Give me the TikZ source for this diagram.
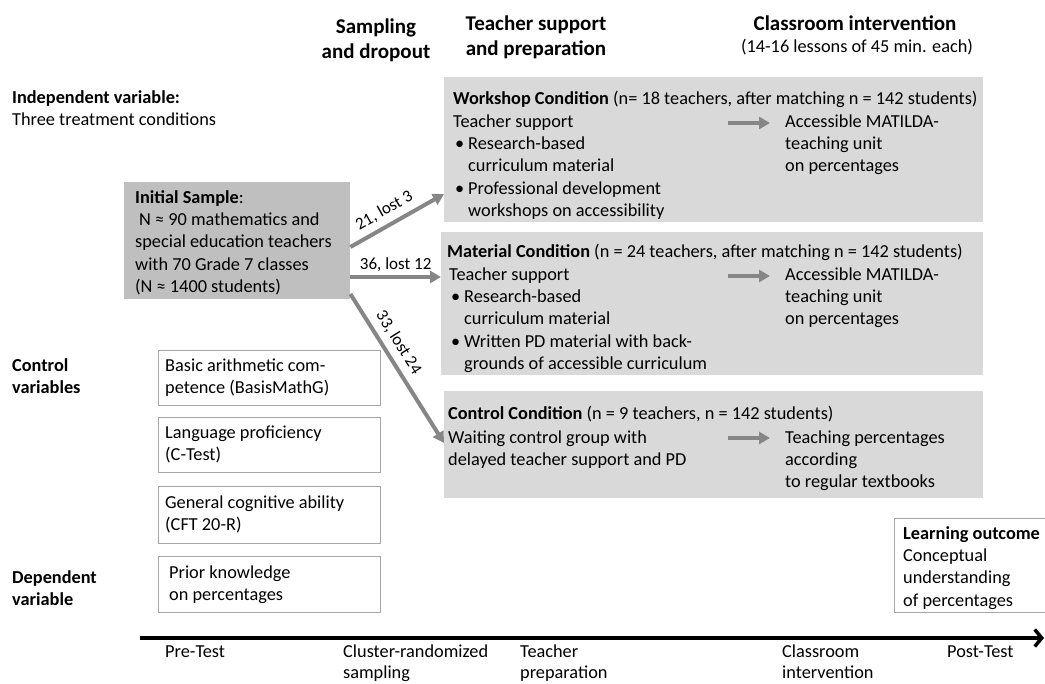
\documentclass[tikz,border=0pt]{standalone}
\usepackage{fontspec}
\setmainfont{Carlito}
\usetikzlibrary{arrows.meta,calc}
\definecolor{boxgray}{HTML}{D9D9D9}
\definecolor{initgray}{HTML}{BFBFBF}
\definecolor{arrgray}{HTML}{868686}
\definecolor{framegray}{HTML}{A6A6A6}
\begin{document}
\begin{tikzpicture}[x=1pt,y=-1pt,
  txt/.style={inner sep=0pt, anchor=north west, align=left, font=\fontsize{18.3}{22.3}\selectfont},
  hdr/.style={inner sep=0pt, align=center, font=\bfseries\fontsize{21}{25}\selectfont},
  condbox/.style={fill=boxgray, draw=none, inner sep=0pt, anchor=north west},
  initbox/.style={fill=initgray, draw=none, inner sep=0pt, anchor=north west},
  ctlbox/.style={draw=framegray, line width=1.2pt, anchor=north west, inner sep=0pt, minimum width=222pt},
  garrow/.style={draw=arrgray, line width=4pt, -{Triangle[length=11pt,width=12pt]}},
  lbl/.style={font=\fontsize{17}{20}\selectfont, inner sep=2pt},
  timeline/.style={draw=black, line width=3.5pt, -{Straight Barb[length=7pt,width=17pt]}}
]
\useasboundingbox (0,0) rectangle (1045,684);

% headers
\node[hdr] (hsamp) at (376,40.5) {Sampling\\and dropout};
\node[hdr] (hteach) at (536,37) {Teacher support\\and preparation};
\node[hdr] (hclass) at (855,23) {Classroom intervention};
\node[inner sep=0pt, font=\fontsize{18.3}{22.3}\selectfont] (hlessons) at (857,47) {(14-16 lessons of 45 min. each)};

% left labels
\node[txt] (indep) at (12,87.5) {\strut\textbf{Independent variable:}\\Three treatment conditions};
\node[txt, font=\bfseries\fontsize{18.3}{22.3}\selectfont] (ctrlvar) at (12,355.5) {\strut Control\\variables};
\node[txt, font=\bfseries\fontsize{18.3}{22.3}\selectfont] (depvar) at (12,567.5) {\strut Dependent\\variable};

% initial sample
\node[initbox, minimum width=226pt, minimum height=117pt] (init) at (124,182) {};
\node[txt] (inittxt) at (135,187.5) {\strut\textbf{Initial Sample}:\\\hspace*{4pt}N ≈ 90 mathematics and\\special education teachers\\with 70 Grade 7 classes\\(N ≈ 1400 students)};

% condition boxes
\node[condbox, minimum width=539pt, minimum height=145pt] (work) at (444,77) {};
\node[condbox, minimum width=542pt, minimum height=143pt] (mat) at (441,232) {};
\node[condbox, minimum width=539pt, minimum height=107pt] (ctrl) at (444,391) {};

% workshop texts
\node[txt] (worktitle) at (453,88.5) {\strut\textbf{Workshop Condition} (n= 18 teachers, after matching n = 142 students)};
\node[txt] (workleft) at (453,111.5) {\strut Teacher support\\
  \makebox[15pt][l]{\hspace{2pt}•}Research-based\\
  \hspace*{15pt}curriculum material\\
  \makebox[15pt][l]{\hspace{2pt}•}Professional development\\
  \hspace*{15pt}workshops on accessibility};
\node[txt] (workright) at (785,111.5) {\strut Accessible MATILDA-\\teaching unit\\on percentages};

% material texts
\node[txt] (mattitle) at (447,241.5) {\strut\textbf{Material Condition} (n = 24 teachers, after matching n = 142 students)};
\node[txt] (matleft) at (449,264.5) {\strut Teacher support\\
  \makebox[15pt][l]{\hspace{2pt}•}Research-based\\
  \hspace*{15pt}curriculum material\\
  \makebox[15pt][l]{\hspace{2pt}•}Written PD material with back-\\
  \hspace*{15pt}grounds of accessible curriculum};
\node[txt] (matright) at (785,264.5) {\strut Accessible MATILDA-\\teaching unit\\on percentages};

% control texts
\node[txt] (ctrltitle) at (448,403.5) {\strut\textbf{Control Condition} (n = 9 teachers, n = 142 students)};
\node[txt] (ctrlleft) at (448,427.5) {\strut Waiting control group with\\delayed teacher support and PD};
\node[txt] (ctrlright) at (785,427.5) {\strut Teaching percentages\\according\\to regular textbooks};

% in-box arrows
\coordinate (wa) at (728,123);
\coordinate (ma) at (728,276);
\coordinate (ca) at (728,438);
\draw[garrow, shorten >=15pt] (wa) -- (wa -| workright.west);
\draw[garrow, shorten >=15pt] (ma) -- (ma -| matright.west);
\draw[garrow, shorten >=15pt] (ca) -- (ca -| ctrlright.west);

% sampling arrows
\draw[garrow] ($(init.north east)+(0,65)$) -- node[lbl, pos=0.44, sloped, above=4pt] {21, lost 3} ($(work.north west)+(0,117)$);
\draw[garrow] ($(init.north east)+(0,95)$) -- node[lbl, midway, above=1pt] {36, lost 12} ($(mat.north west)+(0,45)$);
\draw[garrow] ($(init.north east)+(0,112)$) -- node[lbl, pos=0.38, sloped, above=4pt] {33, lost 24} ($(ctrl.north west)+(0,52)$);

% control variable boxes
\node[ctlbox, minimum height=55pt] (cv1) at (158,350) {};
\node[ctlbox, minimum height=55pt] (cv2) at (158,417) {};
\node[ctlbox, minimum height=57pt] (cv3) at (158,486) {};
\node[ctlbox, minimum height=56pt] (cv4) at (158,556) {};
\node[txt] (cv1t) at (165,355.5) {\strut Basic arithmetic com-\\petence (BasisMathG)};
\node[txt] (cv2t) at (165,422.5) {\strut Language proficiency\\(C-Test)};
\node[txt] (cv3t) at (165,492.5) {\strut General cognitive ability\\(CFT 20-R)};
\node[txt] (cv4t) at (169,562.5) {\strut Prior knowledge\\on percentages};

% learning outcome
\node[draw=framegray, line width=1.2pt, inner sep=0pt, anchor=north west, minimum width=160pt, minimum height=94pt] (lo) at (894,518) {};
\node[txt] (lotxt) at (903,523.5) {\strut\textbf{Learning outcome}\\Conceptual\\understanding\\of percentages};

% timeline
\coordinate (t0) at (140,638);
\coordinate (t1) at (1044,638);
\draw[timeline] (t0) -- (t1);

% timeline labels
\node[txt, font=\fontsize{18.3}{21.5}\selectfont] (pre) at (165,642) {\strut Pre-Test};
\node[txt, font=\fontsize{18.3}{21.5}\selectfont] (clus) at (343,642) {\strut Cluster-randomized\\sampling};
\node[txt, font=\fontsize{18.3}{21.5}\selectfont] (tprep) at (520,642) {\strut Teacher\\preparation};
\node[txt, font=\fontsize{18.3}{21.5}\selectfont] (cint) at (782,642) {\strut Classroom\\intervention};
\node[txt, font=\fontsize{18.3}{21.5}\selectfont] (post) at (947,642) {\strut Post-Test};
\end{tikzpicture}
\end{document}
